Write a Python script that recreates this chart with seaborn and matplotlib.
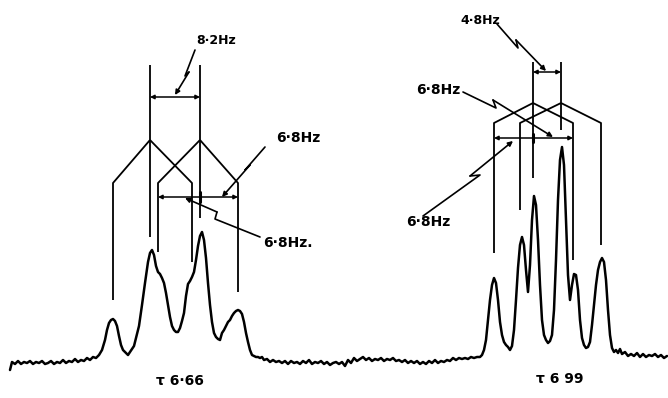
import matplotlib
matplotlib.use("Agg")
import matplotlib.pyplot as plt
import seaborn as sns

# Recorder trace (x along the paper, y = pen position, paper units, down is larger)
trace_x = [10, 12, 15, 18, 21, 24, 27, 30, 33, 36, 39, 42, 45, 48, 51, 54, 57, 60, 63, 66,
           69, 72, 75, 78, 81, 84, 87, 90, 93, 96, 99, 102, 105, 107, 109, 111, 113, 115, 117, 119,
           121, 123, 125, 127, 128, 130, 132, 134, 136, 139, 142, 145, 148, 150, 152, 154, 156, 158, 160, 162,
           164, 166, 168, 170, 172, 174, 176, 178, 180, 182, 184, 186, 188, 190, 192, 194, 196, 198, 200, 202,
           204, 206, 208, 210, 212, 214, 216, 218, 220, 222, 224, 226, 228, 230, 232, 234, 236, 238, 240, 242,
           244, 246, 248, 250, 252, 254, 256, 258, 260, 262, 264, 267, 270, 273, 276, 279, 282, 285, 288, 291,
           294, 297, 300, 303, 306, 309, 312, 315, 318, 321, 324, 327, 330, 333, 336, 339, 342, 345, 348, 351,
           354, 357, 360, 363, 366, 369, 372, 375, 378, 381, 384, 387, 390, 393, 396, 399, 402, 405, 408, 411,
           414, 417, 420, 423, 426, 429, 432, 435, 438, 441, 444, 447, 450, 453, 456, 459, 462, 465, 468, 471,
           474, 477, 480, 482, 484, 486, 488, 490, 492, 494, 496, 498, 500, 502, 504, 506, 508, 510, 512, 514,
           516, 518, 520, 522, 524, 526, 528, 530, 532, 534, 536, 538, 540, 542, 544, 546, 548, 550, 552, 554,
           556, 558, 560, 562, 564, 566, 568, 570, 572, 574, 576, 578, 580, 582, 584, 586, 588, 590, 592, 594,
           596, 598, 600, 602, 604, 606, 608, 610, 612, 614, 616, 618, 620, 622, 625, 628, 631, 634, 637, 640,
           643, 646, 649, 652, 655, 658, 661, 664, 667]
trace_y = [370, 362, 364, 361, 364, 362, 363, 361, 364, 362, 363, 361, 364, 363, 361, 364, 362, 363, 360, 363,
           361, 362, 359, 362, 360, 361, 358, 360, 357, 358, 355, 350, 340, 330, 323, 320, 319, 321, 326, 336,
           345, 350, 352, 354, 355, 352, 349, 346, 338, 326, 305, 283, 262, 253, 250, 255, 266, 272, 274, 278,
           283, 293, 305, 317, 326, 330, 332, 332, 328, 321, 313, 296, 284, 281, 277, 272, 260, 246, 236, 232,
           240, 258, 283, 305, 322, 333, 337, 339, 340, 333, 330, 326, 322, 320, 316, 313, 311, 310, 311, 314,
           322, 333, 342, 350, 355, 356, 357, 357, 358, 357, 360, 359, 362, 360, 362, 361, 363, 361, 364, 361,
           363, 362, 364, 361, 363, 360, 364, 362, 363, 361, 364, 362, 365, 363, 362, 364, 362, 366, 360, 363,
           358, 361, 359, 357, 360, 358, 361, 359, 360, 358, 361, 359, 360, 358, 361, 360, 362, 360, 363, 361,
           363, 361, 364, 362, 364, 361, 363, 360, 363, 361, 362, 360, 361, 358, 360, 358, 359, 358, 359, 357,
           358, 357, 357, 355, 350, 340, 320, 300, 285, 278, 283, 300, 322, 335, 342, 345, 347, 350, 346, 330,
           300, 268, 245, 237, 245, 270, 292, 265, 220, 196, 205, 240, 285, 320, 335, 340, 343, 341, 335, 310,
           260, 200, 160, 147, 165, 220, 275, 300, 285, 274, 275, 290, 320, 338, 345, 348, 347, 342, 325, 305,
           285, 270, 262, 258, 262, 280, 310, 335, 348, 352, 350, 353, 349, 354, 352, 356, 354, 356, 353, 357,
           354, 357, 355, 356, 354, 357, 355, 358, 356]

# Splitting diagrams: line positions, node heights and lower ends of each line
left_top = [150, 200]
left_top_end = [237, 218]
left_split = [[113, 192], [158, 238]]
left_split_end = [[300, 262], [252, 292]]
left_levels = [65, 140, 183]     # top, node, split

right_top = [533, 561]
right_top_end = [178, 130]
right_split = [[494, 573], [520, 601]]
right_split_end = [[253, 260], [210, 245]]
right_levels = [62, 103, 123]

sns.set_style("white")
fig = plt.figure(figsize=(6.68, 3.98), dpi=100)
ax = fig.add_axes([0, 0, 1, 1])

sns.lineplot(x=trace_x, y=trace_y, sort=False, estimator=None, color="black",
             linewidth=1.8, ax=ax)

ink = dict(color="black", linewidth=1.3, solid_capstyle="butt")


def tree(ax, tops, top_ends, splits, split_ends, levels):
    y_top, y_node, y_split = levels
    for xt, yend, pair, pends in zip(tops, top_ends, splits, split_ends):
        ax.plot([xt, xt], [y_top, yend], **ink)
        for xs, ye in zip(pair, pends):
            ax.plot([xt, xs, xs], [y_node, y_split, ye], **ink)


tree(ax, left_top, left_top_end, left_split, left_split_end, left_levels)
tree(ax, right_top, right_top_end, right_split, right_split_end, right_levels)

dim = dict(arrowstyle="<|-|>", color="black", lw=1.1, mutation_scale=6, shrinkA=0, shrinkB=0)


def span(ax, x0, x1, y):
    ax.annotate("", xy=(x0, y), xytext=(x1, y), arrowprops=dim)


span(ax, left_top[0], left_top[1], 97)
span(ax, left_split[1][0], left_split[1][1], 197)
span(ax, right_top[0], right_top[1], 72)
span(ax, right_split[0][0], right_split[0][1], 138)
ax.plot([200, 200], [192, 202], color="black", lw=2.2)
ax.plot([533, 533], [134, 142], color="black", lw=2.2)

bolt = dict(arrowstyle="-|>", color="black", lw=1.2, mutation_scale=7, shrinkA=0, shrinkB=0)


def lightning(ax, pts):
    xs = [p[0] for p in pts]
    ys = [p[1] for p in pts]
    ax.plot(xs[:-1], ys[:-1], color="black", lw=1.2)
    ax.annotate("", xy=pts[-1], xytext=pts[-2], arrowprops=bolt)


lightning(ax, [(195, 50), (185, 76), (189, 72), (175, 95)])
lightning(ax, [(265, 147), (245, 170), (250, 165), (222, 197)])
lightning(ax, [(260, 237), (215, 219), (217, 212), (185, 198)])
lightning(ax, [(497, 24), (518, 48), (516, 40), (546, 71)])
lightning(ax, [(463, 92), (496, 108), (493, 100), (553, 137)])
lightning(ax, [(423, 216), (480, 175), (470, 176), (513, 141)])

lab = dict(fontsize=10, fontweight="bold", ha="center", va="center", color="black")
ax.text(216, 40, "8·2Hz", **{**lab, "fontsize": 9})
ax.text(298, 138, "6·8Hz", **lab)
ax.text(288, 243, "6·8Hz.", **lab)
ax.text(480, 20, "4·8Hz", **{**lab, "fontsize": 9})
ax.text(438, 90, "6·8Hz", **lab)
ax.text(428, 222, "6·8Hz", **lab)
ax.text(180, 381, "τ 6·66", **lab)
ax.text(560, 379, "τ 6 99", **lab)

ax.set_xlim(0, 668)
ax.set_ylim(398, 0)
ax.axis("off")
fig.savefig("out.png", dpi=100, facecolor="white")
